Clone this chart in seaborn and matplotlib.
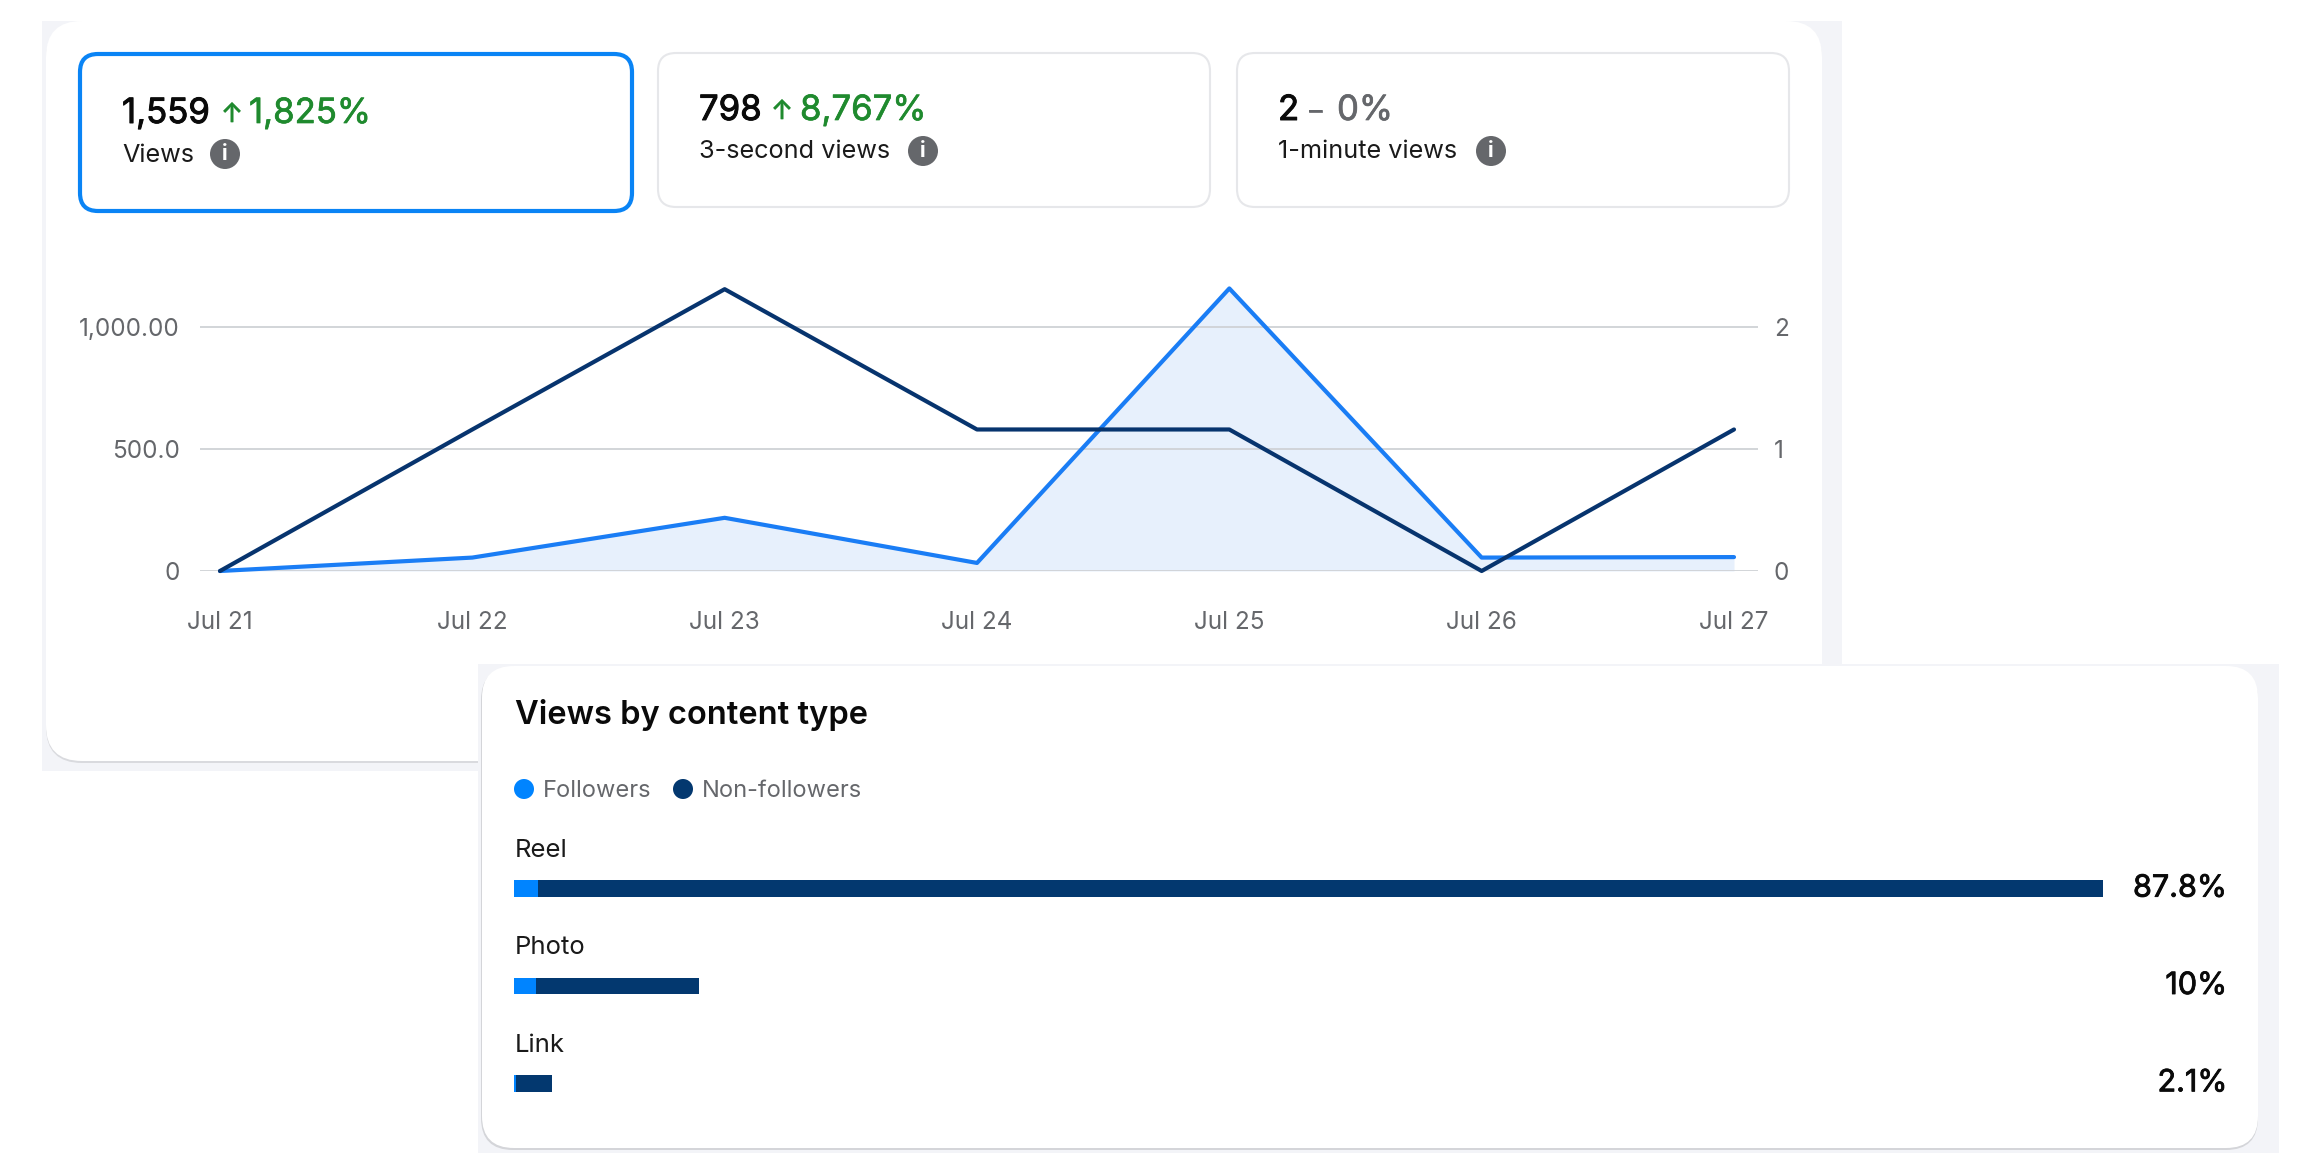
import pandas as pd
import matplotlib
matplotlib.use("Agg")
import matplotlib.pyplot as plt
import matplotlib.patheffects as pe
import seaborn as sns
from matplotlib.patches import FancyBboxPatch, Rectangle, Circle

days = ["Jul 21", "Jul 22", "Jul 23", "Jul 24", "Jul 25", "Jul 26", "Jul 27"]
views_followers = [0, 55, 218, 33, 1158, 55, 57]
views_non_followers = [0, 1.16, 2.31, 1.16, 1.16, 0, 1.16]
left_ticks = [0, 500, 1000]
left_tick_labels = ["0", "500.0", "1,000.00"]
right_ticks = [0, 1, 2]

content_types = ["Reel", "Photo", "Link"]
followers_share = [1.3, 1.2, 0.1]
non_followers_share = [86.5, 9.0, 2.0]
share_labels = ["87.8%", "10%", "2.1%"]

BLUE = "#1a7df5"
NAVY = "#07346e"
BAR_BLUE = "#0084ff"
BAR_NAVY = "#03386f"
GREY = "#65676b"
GREEN = "#1f8a2e"
STRIP = "#f3f4f8"
W, H = 2320, 1175

sns.set_style("white")
plt.rcParams["font.family"] = ["Inter", "DejaVu Sans"]


def axes_px(fig, left, top, right, bottom, **kw):
    return fig.add_axes([left / W, 1 - bottom / H, (right - left) / W, (bottom - top) / H], **kw)


def card(bg, x0, y0, x1, y1, r, face="white", edge="none", lw=0, z=1):
    p = FancyBboxPatch((x0 + r, y0 + r), x1 - x0 - 2 * r, y1 - y0 - 2 * r,
                       boxstyle=f"round,pad={r},rounding_size={r}",
                       fc=face, ec=edge, lw=lw, zorder=z)
    bg.add_patch(p)


# regular Inter with a hairline stroke, the medium weight is not available
def thicken(color, w=0.5):
    return [pe.withStroke(linewidth=w, foreground=color)]


fig = plt.figure(figsize=(W / 100, H / 100), dpi=100, facecolor="white")

# page background, panels and text all sit on a pixel-sized axes
bg = axes_px(fig, 0, 0, W, H, zorder=0)
bg.set_xlim(0, W)
bg.set_ylim(H, 0)
bg.axis("off")

bg.add_patch(Rectangle((42, 21), 1800, 750, fc=STRIP, ec="none", zorder=1))
card(bg, 46, 23, 1822, 763, 36, face="#d9dade", z=1.1)
card(bg, 46, 21, 1822, 761, 36, z=1.2)

bg.add_patch(Rectangle((478, 664), 1801, 489, fc=STRIP, ec="none", zorder=2))
card(bg, 481, 668, 2258, 1150, 32, face="#d4d5d9", z=2.1)
card(bg, 482, 666, 2258, 1148, 32, z=2.2)

# metric boxes
card(bg, 80, 54, 632, 211, 18, edge="#0a84f5", lw=3, z=3)
card(bg, 658, 53, 1210, 207, 18, edge="#e6e7ea", lw=1.5, z=3)
card(bg, 1237, 53, 1789, 207, 18, edge="#e6e7ea", lw=1.5, z=3)


def metric(x, y, value, arrow_x, arrow, pct_x, pct, pct_color, label, info_x):
    bg.text(x, y + 4, value, fontsize=25, color="#0a0a0a", va="center", zorder=4,
            path_effects=thicken("#0a0a0a", 0.7))
    bg.text(arrow_x, y + 5, arrow, fontsize=19, color=pct_color, va="center", zorder=4,
            path_effects=thicken(pct_color))
    bg.text(pct_x, y + 4, pct, fontsize=25, color=pct_color, va="center", zorder=4,
            path_effects=thicken(pct_color))
    bg.text(x, y + 45, label, fontsize=18.2, color="#1a1a1a", va="center", zorder=4)
    bg.add_patch(Circle((info_x, y + 44), 15, fc=GREY, ec="none", zorder=4))
    bg.text(info_x, y + 44, "i", fontsize=15, fontweight="bold", color="white",
            ha="center", va="center", zorder=5)


metric(122, 110, "1,559", 221, "↑", 249, "1,825%", GREEN, "Views", 225)
metric(699, 107, "798", 771, "↑", 800, "8,767%", GREEN, "3-second views", 923)
metric(1278, 107, "2", 1309, "–", 1337, "0%", GREY, "1-minute views", 1491)

# line chart, two y scales
line_df = pd.DataFrame({"pos": range(len(days)), "followers": views_followers,
                        "non_followers": views_non_followers})

ax = axes_px(fig, 200, 270, 1758, 571, zorder=3)
ax.patch.set_alpha(0)
ax.fill_between(line_df["pos"], line_df["followers"], 0, color="#e7f0fc", lw=0, zorder=1)
sns.lineplot(data=line_df, x="pos", y="followers", color=BLUE, lw=3, ax=ax, zorder=4, clip_on=False)
ax.set_xlim(-20 / 252.33, 6 + 24 / 252.33)
ax.set_ylim(0, 301 / 0.244)
ax.set_xticks(line_df["pos"], days)
ax.set_yticks(left_ticks, left_tick_labels)
ax.tick_params(axis="x", length=0, pad=29, labelsize=17.5, labelcolor=GREY)
ax.tick_params(axis="y", length=0, pad=14.5, labelsize=17.5, labelcolor=GREY)
ax.set_xlabel("")
ax.set_ylabel("")
ax.grid(axis="y", color="#cfd2d6", lw=1.3, zorder=2)
ax.set_axisbelow(False)
sns.despine(ax=ax, left=True, top=True, right=True, bottom=True)

ax2 = ax.twinx()
sns.lineplot(data=line_df, x="pos", y="non_followers", color=NAVY, lw=3, ax=ax2, clip_on=False)
ax2.set_ylim(0, 301 / 122)
ax2.set_yticks(right_ticks, [str(t) for t in right_ticks])
ax2.tick_params(axis="y", length=0, pad=11.5, labelsize=17.5, labelcolor=GREY)
ax2.set_ylabel("")
ax2.grid(False)
sns.despine(ax=ax2, left=True, top=True, right=True, bottom=True)

# lower panel header and legend
bg.text(515, 715, "Views by content type", fontsize=23.5, fontweight="semibold", color="#0a0a0a",
        va="center", zorder=4)
bg.add_patch(Circle((524, 789), 10, fc=BAR_BLUE, ec="none", zorder=4))
bg.text(543, 791, "Followers", fontsize=17, color=GREY, va="center", zorder=4)
bg.add_patch(Circle((683, 789), 10, fc=BAR_NAVY, ec="none", zorder=4))
bg.text(702, 791, "Non-followers", fontsize=17, color=GREY, va="center", zorder=4)

# stacked bars: total behind, followers share on top
bars_df = pd.DataFrame({"type": content_types, "followers": followers_share,
                        "non_followers": non_followers_share})
bars_df["total"] = bars_df["followers"] + bars_df["non_followers"]

bx = axes_px(fig, 514, 840, 2103, 1132, zorder=3)
bx.patch.set_alpha(0)
sns.barplot(data=bars_df, x="total", y="type", color=BAR_NAVY, width=0.17, saturation=1, lw=0, ax=bx)
sns.barplot(data=bars_df, x="followers", y="type", color=BAR_BLUE, width=0.17, saturation=1, lw=0, ax=bx)
bx.set_xlim(0, bars_df["total"].max())
bx.set_ylim(2.5, -0.5)
bx.axis("off")

for i, name in enumerate(content_types):
    bx.annotate(name, (0, i), xytext=(1, 38), textcoords="offset pixels", fontsize=18.5,
                color="#1a1a1a", va="center", ha="left")
    bx.annotate(share_labels[i], (bars_df["total"].max(), i), xytext=(124, 0), textcoords="offset pixels",
                fontsize=22, color="#0a0a0a", va="center", ha="right",
                path_effects=thicken("#0a0a0a", 0.6))

fig.savefig("out.png", dpi=100)
